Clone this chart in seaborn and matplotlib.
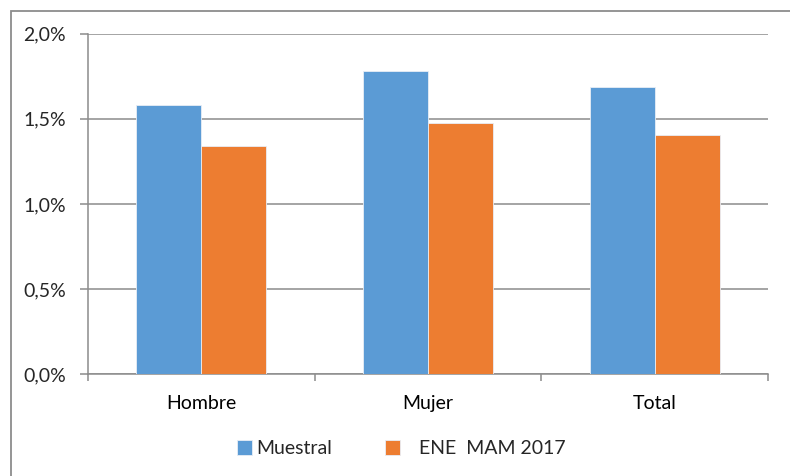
import pandas as pd
import numpy as np
import seaborn as sns
import matplotlib.pyplot as plt
from matplotlib.ticker import FuncFormatter, MultipleLocator, FixedLocator
from matplotlib.patches import Rectangle

# values (percent)
categories = ['Hombre', 'Mujer', 'Total']
muestral = [1.58, 1.78, 1.685]
ene_mam = [1.34, 1.475, 1.405]
series_names = ['Muestral', '   ENE  MAM 2017']
colors = ['#5B9BD5', '#ED7D31']

# long table for seaborn
df = pd.DataFrame({
    'categoria': categories * 2,
    'valor': muestral + ene_mam,
    'serie': [series_names[0]] * 3 + [series_names[1]] * 3,
})

sns.set_style("white")
plt.rcParams['font.family'] = ['Lato', 'DejaVu Sans']

fig = plt.figure(figsize=(7.9, 4.76), dpi=100)
ax = fig.add_axes([88 / 790, 1 - 374.3 / 476, (768 - 88) / 790, (374.3 - 33.7) / 476])

sns.barplot(data=df, x='categoria', y='valor', hue='serie', palette=colors,
            width=0.574, gap=0, saturation=1, edgecolor='#e8eef6', linewidth=0.6,
            ax=ax, legend=True, zorder=3)

ax.set_xlim(-0.5, 2.5)
ax.set_ylim(0, 2.0)
ax.yaxis.set_major_locator(MultipleLocator(0.5))
ax.yaxis.set_major_formatter(FuncFormatter(lambda v, p: f'{v:.1f}%'.replace('.', ',')))
ax.grid(axis='y', color='#8c8c8c', linewidth=1.1, zorder=0)
ax.set_axisbelow(True)
ax.set_xlabel('')
ax.set_ylabel('')

for s in ['top', 'right']:
    ax.spines[s].set_visible(False)
for s in ['left', 'bottom']:
    ax.spines[s].set_color('#8c8c8c')
    ax.spines[s].set_linewidth(1.1)

# category boundary ticks on x, label-only major ticks
ax.xaxis.set_minor_locator(FixedLocator([-0.5, 0.5, 1.5, 2.5]))
ax.tick_params(axis='x', which='major', length=0, labelsize=14, pad=15, colors='#000000')
ax.tick_params(axis='x', which='minor', length=5, width=1.1, color='#8c8c8c', direction='out', bottom=True)
ax.tick_params(axis='y', length=6, width=1.1, color='#8c8c8c', labelsize=14, pad=10, left=True)

handles, labels = ax.get_legend_handles_labels()
ax.get_legend().remove()
fig.legend(handles, labels, loc='center', bbox_to_anchor=(0.508, 0.057), ncol=2,
           frameon=False, fontsize=14, handlelength=0.78, handleheight=0.78,
           handletextpad=0.2, columnspacing=2.7)

# outer chart frame (cut off at right and bottom)
fig.patches.append(Rectangle((11 / 790, -0.2), 1.0, 1.2 - 11 / 476,
                             transform=fig.transFigure, fill=False,
                             edgecolor='#8c8c8c', linewidth=1.3))

fig.savefig('out.png', dpi=100)
